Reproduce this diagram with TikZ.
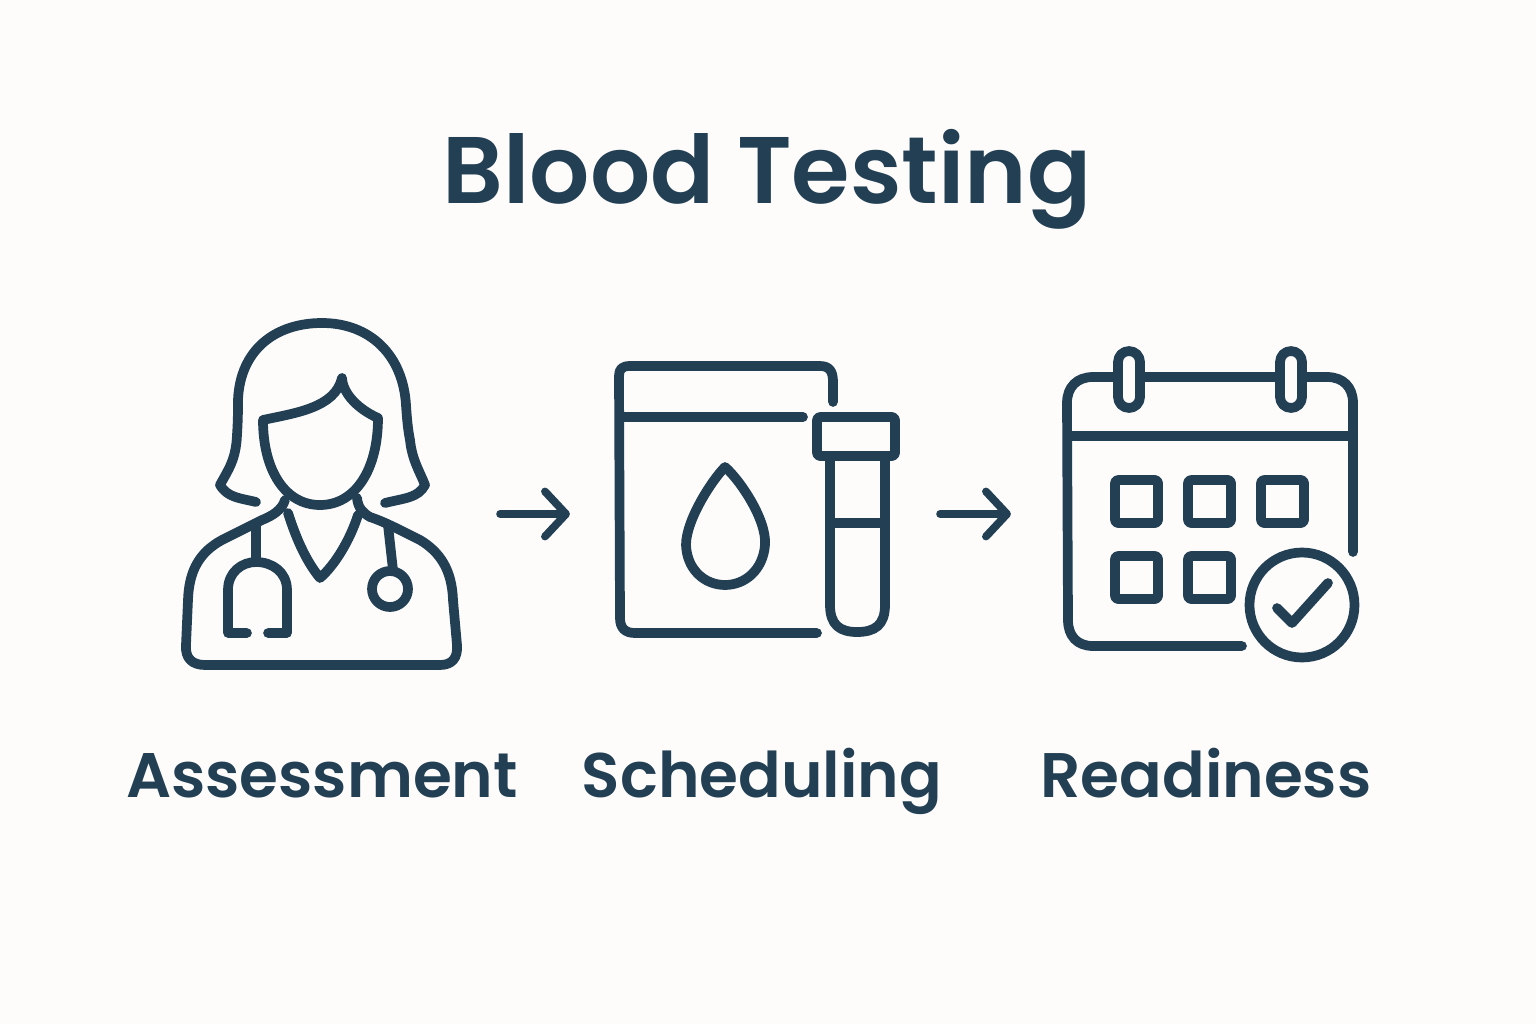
\documentclass[tikz,border=0pt]{standalone}
\usepackage{fontspec}
\setmainfont{Poppins}[BoldFont=* SemiBold]
\usepackage{tikz}
\usetikzlibrary{arrows.meta, positioning}
\definecolor{inkblue}{HTML}{223F54}
\definecolor{paper}{HTML}{FDFCFA}

\begin{document}
\begin{tikzpicture}[x=0.01cm,y=-0.01cm,>={Straight Barb[round,length=2.1mm,width=4.5mm]},
        icon/.style={draw=inkblue,line width=0.097cm,line cap=round,line join=round},
        slot/.style={icon,rounded corners=0.03cm},
        ring/.style={icon,fill=paper,rounded corners=0.11cm},
        iconbox/.style={minimum height=3.4cm,inner sep=0pt,outer sep=0pt},
        flow/.style={->,draw=inkblue,line width=0.078cm,line cap=round},
        steplabel/.style={text=inkblue,anchor=base,font=\fontsize{17.9pt}{22pt}\bfseries},
        headline/.style={text=inkblue,anchor=base,font=\fontsize{26.9pt}{32pt}\bfseries}]

    \fill[paper] (0,0) rectangle (1536,1024);

    \node[headline]  (title)      at (767,203) {Blood Testing};
    \node[steplabel] (assessment) at (322,797) {Assessment};
    \node[steplabel] (scheduling) at (762,797) {Scheduling};
    \node[steplabel] (readiness)  at (1206,797) {Readiness};

    \node[iconbox,minimum width=3.56cm] (doctor) at (322,514) {};
    \node[iconbox,minimum width=3.70cm] (kit)    at (755,514) {};
    \node[iconbox,minimum width=4.00cm] (agenda) at (1211,514) {};

    \draw[flow] (doctor) -- (kit);
    \draw[flow] (kit) -- (agenda);

    % doctor
    \draw[icon] (256,502) .. controls (240,498) and (228,498) .. (220,485)
                .. controls (228,470) and (236,460) .. (237,435)
                .. controls (238,420) and (238,410) .. (238,400)
                .. controls (240,350) and (275,323) .. (322,323)
                .. controls (370,323) and (403,355) .. (406,405)
                .. controls (407,420) and (408,430) .. (410,440)
                .. controls (412,460) and (420,472) .. (425,485)
                .. controls (418,498) and (405,498) .. (385,503);
    \draw[icon] (263,420) .. controls (295,413) and (335,408) .. (342,378)
                .. controls (343,395) and (360,410) .. (378,418)
                .. controls (378,470) and (355,505) .. (320,505)
                .. controls (285,505) and (263,470) .. (263,420) -- cycle;
    \draw[icon] (285,500) .. controls (282,510) and (272,516) .. (262,520) -- (222,540)
                .. controls (200,552) and (189,570) .. (188,600) -- (186,645)
                .. controls (185,658) and (192,665) .. (205,665) -- (440,665)
                .. controls (452,665) and (458,658) .. (457,645) -- (453,600)
                .. controls (452,570) and (440,552) .. (420,540)
                .. controls (400,530) and (385,522) .. (370,517)
                .. controls (363,513) and (358,508) .. (357,498);
    \draw[icon] (288,513) .. controls (295,535) and (305,560) .. (320,578)
                .. controls (335,565) and (350,540) .. (358,515);
    \draw[icon] (256,525) -- (256,560);
    \draw[icon] (247,633) -- (228,633) -- (228,590)
                .. controls (228,572) and (242,562) .. (256,562)
                .. controls (272,562) and (287,572) .. (287,590)
                -- (287,633) -- (268,633);
    \draw[icon] (388,525) -- (393,570);
    \draw[icon] (390,589) circle[radius=18];

    % kit
    \draw[icon] (833,402) -- (833,382) .. controls (833,372) and (830,366) .. (820,366)
                -- (630,366) .. controls (622,366) and (619,369) .. (619,376)
                -- (620,618) .. controls (620,628) and (625,633) .. (635,633) -- (817,633);
    \draw[icon] (620,417) -- (803,417);
    \draw[icon] (725,467) .. controls (740,480) and (767,520) .. (765,545)
                .. controls (763,570) and (745,585) .. (725,585)
                .. controls (705,585) and (687,570) .. (686,545)
                .. controls (686,520) and (712,480) .. (725,467) -- cycle;
    \draw[slot] (817,417) rectangle (895,456);
    \draw[icon] (830,456) -- (830,605) .. controls (830,625) and (840,632) .. (857,632)
                .. controls (875,632) and (885,625) .. (885,605) -- (885,456);
    \draw[icon] (830,523) -- (885,523);

    % agenda
    \draw[icon] (1353,552) -- (1353,403) .. controls (1353,387) and (1343,377) .. (1327,377)
                -- (1093,377) .. controls (1077,377) and (1067,387) .. (1067,403)
                -- (1068,620) .. controls (1068,636) and (1077,646) .. (1093,646) -- (1242,646);
    \draw[icon] (1068,436) -- (1353,436);
    \draw[ring] (1118,351) rectangle (1140,408);
    \draw[ring] (1280,351) rectangle (1302,408);
    \foreach \sx/\sy in {1115/480,1188/480,1261/480,1115/556,1188/556}
      \draw[slot] (\sx,\sy) rectangle ++(43,43);
    \draw[icon] (1302,605) circle[radius=52.5];
    \draw[icon] (1277,608) -- (1292,623) -- (1328,583);
\end{tikzpicture}
\end{document}
